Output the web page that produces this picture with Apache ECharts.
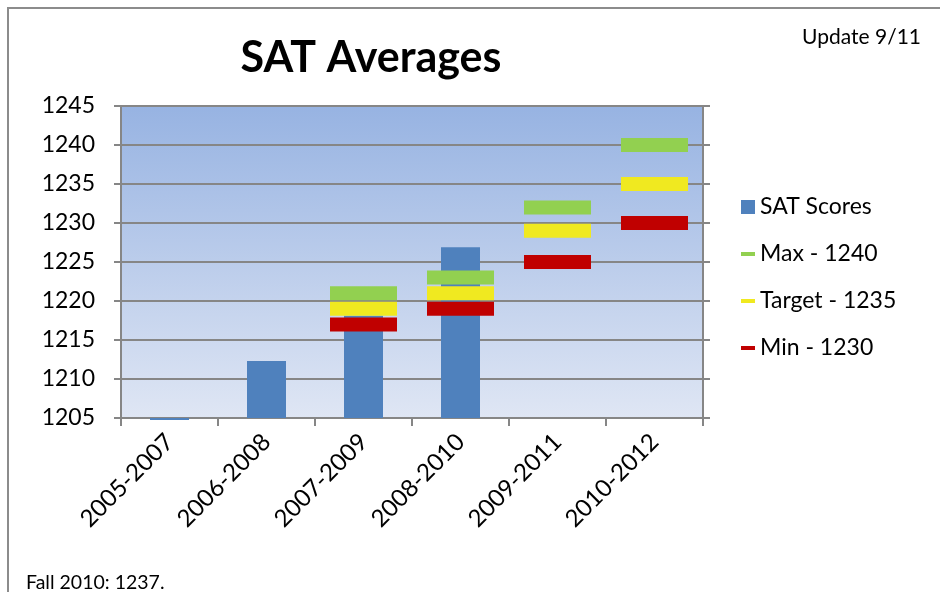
<!DOCTYPE html>
<html>
<head>
<meta charset="utf-8">
<script src="https://cdn.jsdelivr.net/npm/echarts@6/dist/echarts.min.js"></script>
<style>
  html, body { margin: 0; padding: 0; background: #fff; }
  #chart { width: 940px; height: 592px; }
</style>
</head>
<body>
<div id="chart"></div>
<script>
// chart data
const periods = ['2005-2007', '2006-2008', '2007-2009', '2008-2010', '2009-2011', '2010-2012']
const satScores = [1204.8, 1212.3, 1218.1, 1226.9, null, null]
const maxValues = [null, null, 1221, 1223, 1232, 1240]
const targetValues = [null, null, 1219, 1221, 1229, 1235]
const minValues = [null, null, 1217, 1219, 1225, 1230]
const yTicks = {min: 1205, max: 1245, interval: 5}

const font = 'Lato, "Open Sans", sans-serif'
const grey = '#868686'
const barColor = '#4f81bd'

// thin line legend icon, padded to a square with move-to points
const lineIcon = 'path://M0,0M0,5h14v4h-14zM14,14'

function markerSeries(name, values, color) {
  return {
    name: name,
    type: 'scatter',
    symbol: 'rect',
    symbolSize: [67, 14],
    itemStyle: {color: color, opacity: 1},
    z: 5,
    data: values
  }
}

// bars hang from the axis minimum (like Excel does), so a value just
// under the minimum still shows as a thin sliver below the axis
function renderBar(params, api) {
  const top = api.coord([api.value(0), api.value(1)])
  const base = api.coord([api.value(0), yTicks.min])
  const w = 39
  return {
    type: 'rect',
    shape: {x: top[0] - w / 2, y: Math.min(top[1], base[1]), width: w, height: Math.max(Math.abs(base[1] - top[1]), 2)},
    style: {fill: barColor}
  }
}

const chart = echarts.init(document.getElementById('chart'))
chart.setOption({
  animation: false,
  backgroundColor: '#fff',
  textStyle: {fontFamily: font},
  title: [
    {text: 'SAT Averages', left: 366, top: 32, textAlign: 'center',
      textStyle: {fontFamily: font, fontSize: 43, fontWeight: 'bold', color: '#000'}},
    {text: 'Update 9/11', right: 14, top: 22,
      textStyle: {fontFamily: font, fontSize: 21, fontWeight: 'normal', color: '#000'}},
    {text: 'Fall 2010: 1237.', left: 21, top: 568,
      textStyle: {fontFamily: font, fontSize: 19.5, fontWeight: 'normal', color: '#000'}}
  ],
  graphic: [
    {type: 'rect', shape: {x: 8, y: 8, width: 940, height: 600},
      style: {fill: null, stroke: '#8c8c8c', lineWidth: 2}, silent: true}
  ],
  legend: {
    orient: 'vertical',
    left: 736,
    top: 190,
    itemWidth: 14,
    itemHeight: 14,
    itemGap: 23,
    textStyle: {fontFamily: font, fontSize: 23, color: '#000', lineHeight: 24},
    data: [
      {name: 'SAT Scores', icon: 'rect'},
      {name: 'Max - 1240', icon: lineIcon},
      {name: 'Target - 1235', icon: lineIcon},
      {name: 'Min - 1230', icon: lineIcon}
    ]
  },
  grid: {
    left: 121, right: 237, top: 106, bottom: 174,
    show: true,
    borderWidth: 0,
    backgroundColor: {
      type: 'linear', x: 0, y: 0, x2: 0, y2: 1,
      colorStops: [{offset: 0, color: '#97b3e2'}, {offset: 1, color: '#dfe6f4'}]
    }
  },
  xAxis: {
    type: 'category',
    data: periods,
    axisLine: {lineStyle: {color: grey, width: 2}},
    axisTick: {show: true, length: 8, lineStyle: {color: grey, width: 2}},
    axisLabel: {rotate: 45, fontSize: 24, color: '#000', fontFamily: font, margin: 20, interval: 0}
  },
  yAxis: [
    {
      type: 'value',
      min: yTicks.min, max: yTicks.max, interval: yTicks.interval,
      axisLine: {show: true, lineStyle: {color: grey, width: 2}},
      axisTick: {show: true, length: 7, lineStyle: {color: grey, width: 2}},
      axisLabel: {fontSize: 23, color: '#000', fontFamily: font, margin: 26, formatter: v => String(v)},
      splitLine: {show: true, lineStyle: {color: grey, width: 2}}
    },
    {
      type: 'value', position: 'right',
      min: yTicks.min, max: yTicks.max, interval: yTicks.interval,
      axisLine: {show: true, lineStyle: {color: grey, width: 2}},
      axisTick: {show: true, length: 7, lineStyle: {color: grey, width: 2}},
      axisLabel: {show: false},
      splitLine: {show: false}
    }
  ],
  series: [
    {
      name: 'SAT Scores',
      type: 'custom',
      renderItem: renderBar,
      itemStyle: {color: barColor},
      encode: {x: 0, y: 1},
      z: 3,
      data: satScores.map((v, i) => [i, v]).filter(d => d[1] != null)
    },
    markerSeries('Max - 1240', maxValues, '#92d050'),
    markerSeries('Target - 1235', targetValues, '#f0e920'),
    markerSeries('Min - 1230', minValues, '#c00000')
  ]
})
</script>
</body>
</html>
